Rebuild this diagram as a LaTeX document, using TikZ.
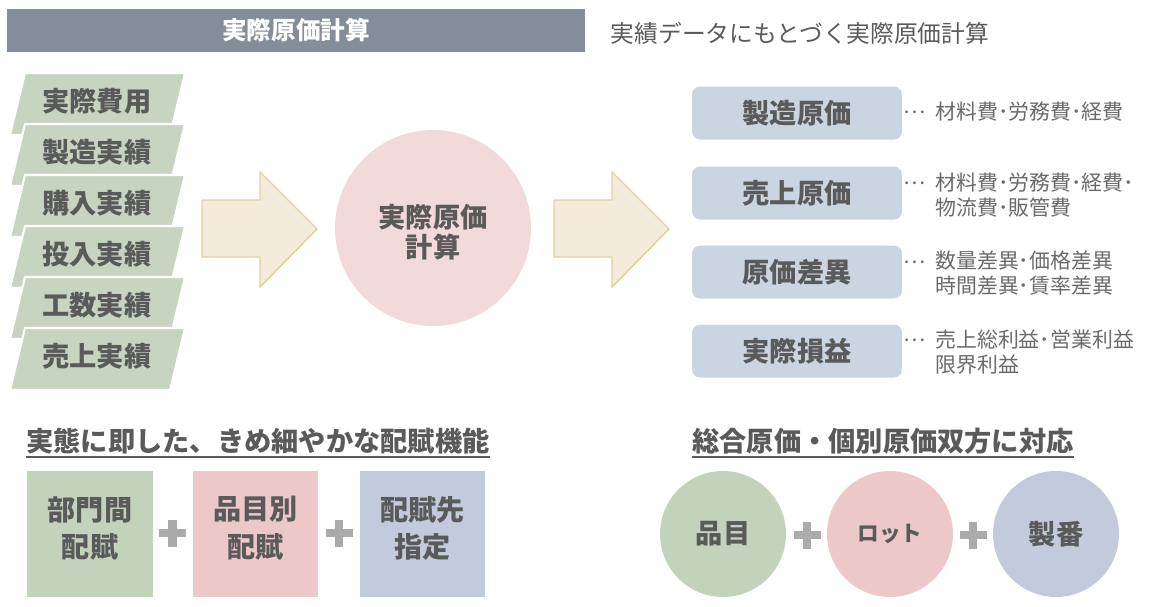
\documentclass[tikz,border=0pt]{standalone}
\usepackage{fontspec}
\setmainfont{Noto Sans CJK JP}
\definecolor{barGray}{HTML}{858D9A}
\definecolor{txtGray}{HTML}{5A5A5A}
\definecolor{descGray}{HTML}{6A6A6A}
\definecolor{sageGreen}{HTML}{C7D5C0}
\definecolor{roseFill}{HTML}{F2D9DA}
\definecolor{arrowFill}{HTML}{F3ECDA}
\definecolor{arrowLine}{HTML}{E1CF9C}
\definecolor{boxBlue}{HTML}{CAD5E1}
\definecolor{sqGreen}{HTML}{C3D2BA}
\definecolor{sqPink}{HTML}{EDC8C9}
\definecolor{sqBlue}{HTML}{C2CADB}
\definecolor{plusGray}{HTML}{ABABAB}

\begin{document}
\begin{tikzpicture}[x=0.02cm,y=-0.02cm,
  boldtxt/.style={font=\bfseries\fontsize{15.5}{18}\selectfont, text=txtGray},
  inbox/.style={boldtxt},
  outbox/.style={boldtxt, fill=boxBlue, rounded corners=0.16cm, minimum width=4.2cm, minimum height=1.06cm},
  desc/.style={font=\fontsize{11.9}{14.2}\selectfont, text=descGray, align=left, inner sep=0pt},
  sqbox/.style={minimum size=2.52cm, inner sep=0pt},
  sqtxt/.style={align=center, font=\bfseries\fontsize{16}{21.5}\selectfont, text=txtGray},
  ball/.style={circle, minimum size=2.52cm, inner sep=0pt, boldtxt},
  plus/.style={plusGray, line width=5pt},
  headline/.style={boldtxt, inner sep=0pt}]
  \useasboundingbox (0,0) rectangle (1150,606);

  % Title bar
  \fill[barGray] (7,9) rectangle (585,52);
  \node[font=\bfseries\fontsize{14}{16}\selectfont, text=white] (title) at (296,30) {実際原価計算};
  \node[font=\fontsize{13.5}{16}\selectfont, text=txtGray] (subtitle) at (800,33) {実績データにもとづく実際原価計算};

  % Input records
  \foreach \y/\txt [count=\i] in {73/実際費用, 124/製造実績, 175/購入実績, 226/投入実績, 277/工数実績, 328/売上実績} {
    \filldraw[fill=sageGreen, draw=white, line width=1.2pt] (25,\y) -- (185,\y) -- (170,\y+62) -- (10,\y+62) -- cycle;
    \node[inbox] (in\i) at (97,\y+28) {\txt};
  }

  % Block arrows
  \foreach \dx in {0,352} {
    \filldraw[fill=arrowFill, draw=arrowLine, line width=0.8pt]
      (202+\dx,200) -- (260+\dx,200) -- (260+\dx,172) -- (317+\dx,229)
      -- (260+\dx,287) -- (260+\dx,257) -- (202+\dx,257) -- cycle;
  }

  % Calculation
  \node[circle, fill=roseFill, minimum size=3.92cm] (calc) at (433,228) {};
  \node[align=center, font=\bfseries\fontsize{15.5}{16.8}\selectfont, text=txtGray] (calcTxt) at (433,232) {実際原価\\計算};

  % Outputs
  \foreach \yc/\ttl/\dsc/\dy/\ty [count=\i] in {
    114/製造原価/{材料費･労務費･経費}/112/112,
    194/売上原価/{材料費･労務費･経費･\\物流費･販管費}/183/195.5,
    273/原価差異/{数量差異･価格差異\\時間差異･賃率差異}/262/273.5,
    352/実際損益/{売上総利益･営業利益\\限界利益}/340/352.5} {
    \node[outbox] (out\i) at (797,\yc-1) {\ttl};
    \node[desc] (dot\i) at (915,\dy) {…};
    \node[desc, anchor=west] (desc\i) at (935,\ty) {\dsc};
  }

  % Allocation
  \node[headline] (alloc) at (258,441) {実態に即した、きめ細やかな配賦機能};
  \draw[txtGray, line width=1.1pt] ([yshift=-1.2pt]alloc.south west) -- ([yshift=-1.2pt]alloc.south east);
  \node[sqbox, fill=sqGreen] (dept) at (90,534) {};
  \node[sqbox, fill=sqPink] (item) at (255.5,534) {};
  \node[sqbox, fill=sqBlue] (dest) at (422.5,534) {};
  \node[sqtxt] (deptTxt) at (90,528.5) {部門間\\配賦};
  \node[sqtxt] (itemTxt) at (255.5,528.5) {品目別\\配賦};
  \node[sqtxt] (destTxt) at (422.5,528.5) {配賦先\\指定};

  % Costing types
  \node[headline] (types) at (883,441) {総合原価・個別原価双方に対応};
  \draw[txtGray, line width=1.1pt] ([yshift=-1.2pt]types.south west) -- ([yshift=-1.2pt]types.south east);
  \node[ball, fill=sqGreen] (hinmoku) at (723,534) {品目};
  \node[ball, fill=sqPink, font=\bfseries\fontsize{12.3}{14}\selectfont] (lot) at (890,534) {ロット};
  \node[ball, fill=sqBlue] (seiban) at (1056,534) {製番};

  % Plus signs
  \foreach \px/\py in {172.5/533, 339/533, 807/535, 973/535} {
    \draw[plus] (\px-13.5,\py) -- (\px+13.5,\py) (\px,\py-13.5) -- (\px,\py+13.5);
  }
\end{tikzpicture}
\end{document}
